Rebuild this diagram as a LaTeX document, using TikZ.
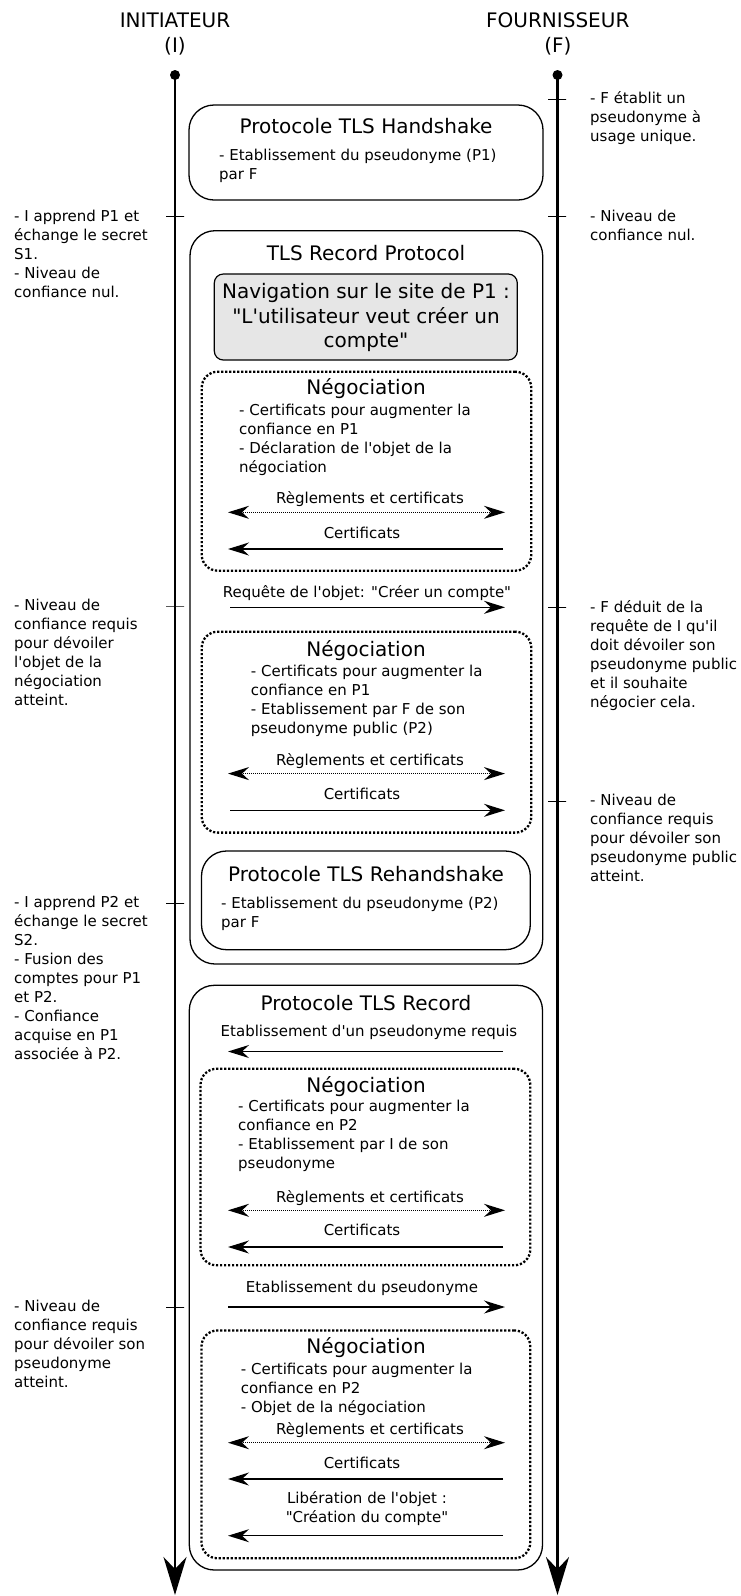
\documentclass[tikz,border=0pt]{standalone}
\usepackage{fontspec}
\newfontfamily\dv{DejaVu Sans}
\usetikzlibrary{arrows.meta}
\definecolor{navgray}{HTML}{E6E6E6}
% stacked lines: first line carries the baseline
\newcommand\leftlines[1]{\vtop{\halign{##\hfil\cr#1\crcr}}}
\newcommand\midlines[1]{\vtop{\halign{\hfil##\hfil\cr#1\crcr}}}
\begin{document}
\begin{tikzpicture}[x=1pt,y=-1pt,
  life/.style={line width=2.3pt},
  dotnode/.style={circle,fill=black,inner sep=0pt,minimum size=10pt},
  tickmark/.style={draw,line width=1pt,minimum width=18pt,minimum height=0pt,inner sep=0pt,outer sep=0pt},
  rbox/.style={draw,line width=1.3pt,rounded corners=25pt,inner sep=0pt},
  nbox/.style={draw,line width=2.3pt,dash pattern=on 2.2pt off 1.8pt,rounded corners=16pt,inner sep=0pt},
  gbox/.style={draw,line width=1.2pt,fill=navgray,rounded corners=9pt,inner sep=0pt},
  body/.style={font=\dv\fontsize{15}{19}\selectfont,inner sep=0pt},
  ttl/.style={font=\dv\fontsize{20}{24.5}\selectfont,inner sep=0pt},
  hdr/.style={font=\dv\fontsize{20}{25.4}\selectfont,inner sep=0pt},
  tipS/.tip={Stealth[length=21pt,width=13pt,inset=7pt]},
  tipL/.tip={Stealth[length=38pt,width=23pt,inset=12pt]},
  msg/.style={line width=1.3pt,-tipS},
  dmsg/.style={line width=1.1pt,dash pattern=on 1pt off 1pt,tipS-tipS},
]
\useasboundingbox (0,0) rectangle (740,1596);

% ---- actors and lifelines ----
\node[hdr,anchor=base] (hI) at (175,27.4) {\midlines{INITIATEUR\cr(I)}};
\node[hdr,anchor=base] (hF) at (557.8,27.4) {\midlines{FOURNISSEUR\cr(F)}};
\node[dotnode] (Itop) at (175,75) {};
\node[dotnode] (Ftop) at (557.5,75) {};
\coordinate (Iend) at (175,1595);
\coordinate (Fend) at (557.5,1595);
\draw[life,-tipL] (Itop.center) -- (Iend);
\draw[life,-tipL] (Ftop.center) -- (Fend);

% ---- ticks on the lifelines ----
\node[tickmark] (tI1) at (175,216.7) {};
\node[tickmark] (tI2) at (175,606) {};
\node[tickmark] (tI3) at (175,903) {};
\node[tickmark] (tI4) at (175,1307) {};
\node[tickmark] (tF1) at (557.2,99.3) {};
\node[tickmark] (tF2) at (557.2,216.5) {};
\node[tickmark] (tF3) at (557.2,607.7) {};
\node[tickmark] (tF4) at (557.2,801) {};

% ---- notes of the initiator ----
\node[body,anchor=base west] (nI1) at (14,221.7) {\leftlines{- I apprend P1 et\cr échange le secret\cr S1.\cr - Niveau de\cr confiance nul.}};
\node[body,anchor=base west] (nI2) at (14,610.5) {\leftlines{- Niveau de\cr confiance requis\cr pour dévoiler\cr l'objet de la\cr négociation\cr atteint.}};
\node[body,anchor=base west] (nI3) at (14,907.5) {\leftlines{- I apprend P2 et\cr échange le secret\cr S2.\cr - Fusion des\cr comptes pour P1\cr et P2.\cr - Confiance\cr acquise en P1\cr associée à P2.}};
\node[body,anchor=base west] (nI4) at (14,1311.5) {\leftlines{- Niveau de\cr confiance requis\cr pour dévoiler son\cr pseudonyme\cr atteint.}};

% ---- notes of the provider ----
\node[body,anchor=base west] (nF1) at (590,103.5) {\leftlines{- F établit un\cr pseudonyme à\cr usage unique.}};
\node[body,anchor=base west] (nF2) at (590,221) {\leftlines{- Niveau de\cr confiance nul.}};
\node[body,anchor=base west] (nF3) at (590,612) {\leftlines{- F déduit de la\cr requête de I qu'il\cr doit dévoiler son\cr pseudonyme public\cr et il souhaite\cr négocier cela.}};
\node[body,anchor=base west] (nF4) at (590,805.5) {\leftlines{- Niveau de\cr confiance requis\cr pour dévoiler son\cr pseudonyme public\cr atteint.}};

% ---- handshake ----
\node[rbox,minimum width=354pt,minimum height=95pt] (hs) at (366,152.5) {};
\node[ttl,anchor=base] (hsT) at (366,133.3) {Protocole TLS Handshake};
\node[body,anchor=base west] (hsB) at (219,160) {\leftlines{- Etablissement du pseudonyme (P1)\cr par F}};

% ---- first record protocol ----
\node[rbox,minimum width=352.7pt,minimum height=733.3pt] (rec1) at (366.35,597.35) {};
\node[ttl,anchor=base] (rec1T) at (366,260) {TLS Record Protocol};
\node[gbox,minimum width=303pt,minimum height=86pt] (nav) at (365.8,317) {};
\node[ttl,anchor=base] (navT) at (366,298.5) {\midlines{Navigation sur le site de P1 :\cr "L'utilisateur veut créer un\cr compte"}};

% negotiation 1
\node[nbox,minimum width=329.6pt,minimum height=199pt] (ng1) at (366.5,471.2) {};
\node[ttl,anchor=base] (ng1T) at (366,394.8) {Négociation};
\node[body,anchor=base west] (ng1B) at (239,415.2) {\leftlines{- Certificats pour augmenter la\cr confiance en P1\cr - Déclaration de l'objet de la\cr négociation}};
\node[body,anchor=base] (ng1L1) at (370,503.8) {Règlements et certificats};
\coordinate (ng1a) at (228,512.3); \coordinate (ng1b) at (505,512.3);
\draw[dmsg] (ng1a) -- (ng1b);
\node[body,anchor=base] (ng1L2) at (362,538.3) {Certificats};
\coordinate (ng1c) at (503,549); \coordinate (ng1d) at (228,549);
\draw[msg] (ng1c) -- (ng1d);

% request of the object
\node[body,anchor=base] (rqL) at (367,597.3) {Requête de l'objet: "Créer un compte"};
\coordinate (rqa) at (230,607.3); \coordinate (rqb) at (505,607.3);
\draw[msg] (rqa) -- (rqb);

% negotiation 2
\node[nbox,minimum width=329.6pt,minimum height=200.9pt] (ng2) at (366.5,732.15) {};
\node[ttl,anchor=base] (ng2T) at (366,656) {Négociation};
\node[body,anchor=base west] (ng2B) at (250.7,676.7) {\leftlines{- Certificats pour augmenter la\cr confiance en P1\cr - Etablissement par F de son\cr pseudonyme public (P2)}};
\node[body,anchor=base] (ng2L1) at (370,765.4) {Règlements et certificats};
\coordinate (ng2a) at (228,773.6); \coordinate (ng2b) at (505,773.6);
\draw[dmsg] (ng2a) -- (ng2b);
\node[body,anchor=base] (ng2L2) at (362,799) {Certificats};
\coordinate (ng2c) at (230,810.3); \coordinate (ng2d) at (505,810.3);
\draw[msg] (ng2c) -- (ng2d);

% rehandshake
\node[rbox,minimum width=328.8pt,minimum height=98.7pt] (rh) at (365.9,900.35) {};
\node[ttl,anchor=base] (rhT) at (366,881.4) {Protocole TLS Rehandshake};
\node[body,anchor=base west] (rhB) at (221,908) {\leftlines{- Etablissement du pseudonyme (P2)\cr par F}};

% ---- second record protocol ----
\node[rbox,minimum width=353.2pt,minimum height=584.7pt] (rec2) at (365.9,1277.65) {};
\node[ttl,anchor=base] (rec2T) at (366,1010.7) {Protocole TLS Record};
\node[body,anchor=base] (rpL) at (369,1036.2) {Etablissement d'un pseudonyme requis};
\coordinate (rpa) at (503,1051.5); \coordinate (rpb) at (228,1051.5);
\draw[msg] (rpa) -- (rpb);

% negotiation 3
\node[nbox,minimum width=329.8pt,minimum height=196.5pt] (ng3) at (365.4,1167.05) {};
\node[ttl,anchor=base] (ng3T) at (366,1092) {Négociation};
\node[body,anchor=base west] (ng3B) at (238,1111.5) {\leftlines{- Certificats pour augmenter la\cr confiance en P2\cr - Etablissement par I de son\cr pseudonyme}};
\node[body,anchor=base] (ng3L1) at (370,1202) {Règlements et certificats};
\coordinate (ng3a) at (228,1210.3); \coordinate (ng3b) at (505,1210.3);
\draw[dmsg] (ng3a) -- (ng3b);
\node[body,anchor=base] (ng3L2) at (362,1235.7) {Certificats};
\coordinate (ng3c) at (503,1247); \coordinate (ng3d) at (228,1247);
\draw[msg] (ng3c) -- (ng3d);

% pseudonym of the initiator
\node[body,anchor=base] (psL) at (362,1292.6) {Etablissement du pseudonyme};
\coordinate (psa) at (228,1307); \coordinate (psb) at (505,1307);
\draw[msg] (psa) -- (psb);

% negotiation 4
\node[nbox,minimum width=328.8pt,minimum height=227.9pt] (ng4) at (365.9,1444.35) {};
\node[ttl,anchor=base] (ng4T) at (366,1353.7) {Négociation};
\node[body,anchor=base west] (ng4B) at (240.7,1374) {\leftlines{- Certificats pour augmenter la\cr confiance en P2\cr - Objet de la négociation}};
\node[body,anchor=base] (ng4L1) at (370,1434.3) {Règlements et certificats};
\coordinate (ng4a) at (228,1442.7); \coordinate (ng4b) at (505,1442.7);
\draw[dmsg] (ng4a) -- (ng4b);
\node[body,anchor=base] (ng4L2) at (362,1468.3) {Certificats};
\coordinate (ng4c) at (503,1479); \coordinate (ng4d) at (228,1479);
\draw[msg] (ng4c) -- (ng4d);
\node[body,anchor=base] (ng4L3) at (367,1503.3) {\midlines{Libération de l'objet :\cr "Création du compte"}};
\coordinate (ng4e) at (503,1535.7); \coordinate (ng4f) at (228,1535.7);
\draw[msg] (ng4e) -- (ng4f);
\end{tikzpicture}
\end{document}
